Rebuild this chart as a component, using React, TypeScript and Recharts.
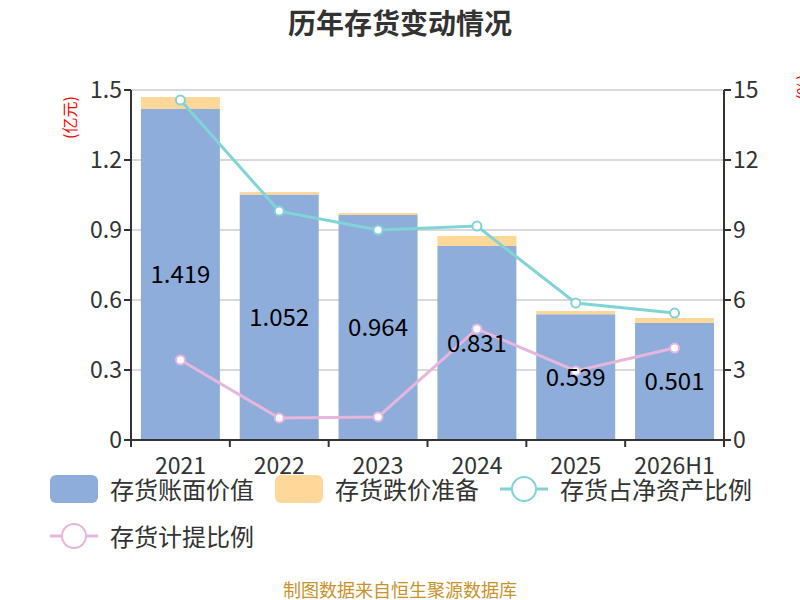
import React from "react";
import {
  ComposedChart,
  Bar,
  Line,
  XAxis,
  YAxis,
  CartesianGrid,
  LabelList,
} from "recharts";

const years = ["2021", "2022", "2023", "2024", "2025", "2026H1"];
const bookValue = [1.419, 1.052, 0.964, 0.831, 0.539, 0.501];
const provision = [0.051, 0.011, 0.009, 0.043, 0.014, 0.022];
const netAssetRatio = [14.57, 9.81, 9.0, 9.17, 5.87, 5.44];
const provisionRatio = [3.43, 0.94, 0.99, 4.76, 2.96, 3.94];

const leftTicks = [0, 0.3, 0.6, 0.9, 1.2, 1.5];
const rightTicks = [0, 3, 6, 9, 12, 15];

const BLUE = "#8eaddb";
const ORANGE = "#ffd899";
const CYAN = "#80d4d6";
const PINK = "#e6b6dc";
const FONT = "'Noto Sans CJK SC', 'Noto Sans', sans-serif";

const data = years.map((year, i) => ({
  year,
  bookValue: bookValue[i],
  provision: provision[i],
  netAssetRatio: netAssetRatio[i],
  provisionRatio: provisionRatio[i],
}));

const W = 800;
const H = 600;
const margin = { top: 90, right: 16, bottom: 130, left: 71 };
const axisW = 60;
const plotW = W - margin.left - margin.right - axisW * 2;
const halfBand = plotW / years.length / 2;

// year label centred, tick marks on category boundaries
function YearTick(props: any) {
  const { x, y, payload, index } = props;
  return (
    <g>
      <line x1={x - halfBand} y1={y} x2={x - halfBand} y2={y + 7} stroke="#333" strokeWidth={2} />
      {index === years.length - 1 && (
        <line x1={x + halfBand} y1={y} x2={x + halfBand} y2={y + 7} stroke="#333" strokeWidth={2} />
      )}
      <text x={x} y={y + 34} textAnchor="middle" fontSize={23} fill="#333" fontFamily={FONT}>
        {payload.value}
      </text>
    </g>
  );
}

function LegendItem({
  kind,
  color,
  label,
  left,
  top,
}: {
  kind: "rect" | "line";
  color: string;
  label: string;
  left: number;
  top: number;
}) {
  return (
    <div style={{ position: "absolute", left, top, display: "flex", alignItems: "center" }}>
      <svg width={48} height={30} style={{ marginRight: 12 }}>
        {kind === "rect" ? (
          <rect x={0} y={1} width={48} height={28} rx={6} fill={color} />
        ) : (
          <g>
            <line x1={0} y1={15} x2={48} y2={15} stroke={color} strokeWidth={3} />
            <circle cx={24} cy={15} r={12} fill="#fff" stroke={color} strokeWidth={2} />
          </g>
        )}
      </svg>
      <span style={{ fontSize: 24, color: "#333", whiteSpace: "nowrap", lineHeight: "30px" }}>{label}</span>
    </div>
  );
}

export default function App() {
  return (
    <div
      style={{
        position: "absolute",
        left: 0,
        top: 0,
        width: W,
        height: H,
        background: "#fff",
        fontFamily: FONT,
        overflow: "hidden",
      }}
    >
      <div
        style={{
          position: "absolute",
          top: 4,
          width: W,
          textAlign: "center",
          fontSize: 28,
          lineHeight: "36px",
          fontWeight: "bold",
          color: "#333",
        }}
      >
        历年存货变动情况
      </div>

      <ComposedChart width={W} height={H} data={data} margin={margin} barCategoryGap="10%">
        <CartesianGrid yAxisId="left" vertical={false} stroke="#ccc" strokeWidth={1.5} />
        <XAxis
          dataKey="year"
          interval={0}
          tickLine={false}
          tickSize={0}
          tickMargin={0}
          height={30}
          stroke="#333"
          strokeWidth={2}
          tick={<YearTick />}
        />
        <YAxis
          yAxisId="left"
          width={axisW}
          domain={[0, 1.5]}
          ticks={leftTicks}
          tickFormatter={(v: number) => String(v)}
          stroke="#333"
          strokeWidth={2}
          tickSize={7}
          tick={{ fontSize: 23, fill: "#333", fontFamily: FONT }}
        />
        <YAxis
          yAxisId="right"
          orientation="right"
          width={axisW}
          domain={[0, 15]}
          ticks={rightTicks}
          stroke="#333"
          strokeWidth={2}
          tickSize={7}
          tick={{ fontSize: 23, fill: "#333", fontFamily: FONT }}
        />
        <Bar yAxisId="left" dataKey="bookValue" stackId="a" fill={BLUE} isAnimationActive={false}>
          <LabelList
            dataKey="bookValue"
            position="center"
            fill="#000"
            fontSize={24}
            fontFamily={FONT}
            formatter={(v: any) => Number(v).toFixed(3)}
          />
        </Bar>
        <Bar yAxisId="left" dataKey="provision" stackId="a" fill={ORANGE} isAnimationActive={false} />
        <Line
          yAxisId="right"
          dataKey="netAssetRatio"
          stroke={CYAN}
          strokeWidth={3}
          dot={{ r: 4.5, fill: "#fff", stroke: CYAN, strokeWidth: 2 }}
          isAnimationActive={false}
        />
        <Line
          yAxisId="right"
          dataKey="provisionRatio"
          stroke={PINK}
          strokeWidth={3}
          dot={{ r: 4.5, fill: "#fff", stroke: PINK, strokeWidth: 2 }}
          isAnimationActive={false}
        />
      </ComposedChart>

      <div
        style={{
          position: "absolute",
          left: 61,
          top: 139,
          transform: "rotate(-90deg)",
          transformOrigin: "left top",
          fontSize: 16,
          lineHeight: "16px",
          color: "#f00",
          whiteSpace: "nowrap",
        }}
      >
        (亿元)
      </div>
      <div
        style={{
          position: "absolute",
          left: 794,
          top: 100,
          transform: "rotate(-90deg)",
          transformOrigin: "left top",
          fontSize: 16,
          lineHeight: "16px",
          color: "#f00",
          whiteSpace: "nowrap",
        }}
      >
        (%)
      </div>

      <LegendItem kind="rect" color={BLUE} label="存货账面价值" left={50} top={474} />
      <LegendItem kind="rect" color={ORANGE} label="存货跌价准备" left={275} top={474} />
      <LegendItem kind="line" color={CYAN} label="存货占净资产比例" left={500} top={474} />
      <LegendItem kind="line" color={PINK} label="存货计提比例" left={50} top={521} />

      <div
        style={{
          position: "absolute",
          top: 578,
          width: W,
          textAlign: "center",
          fontSize: 18,
          lineHeight: "22px",
          color: "#c9932a",
        }}
      >
        制图数据来自恒生聚源数据库
      </div>
    </div>
  );
}
